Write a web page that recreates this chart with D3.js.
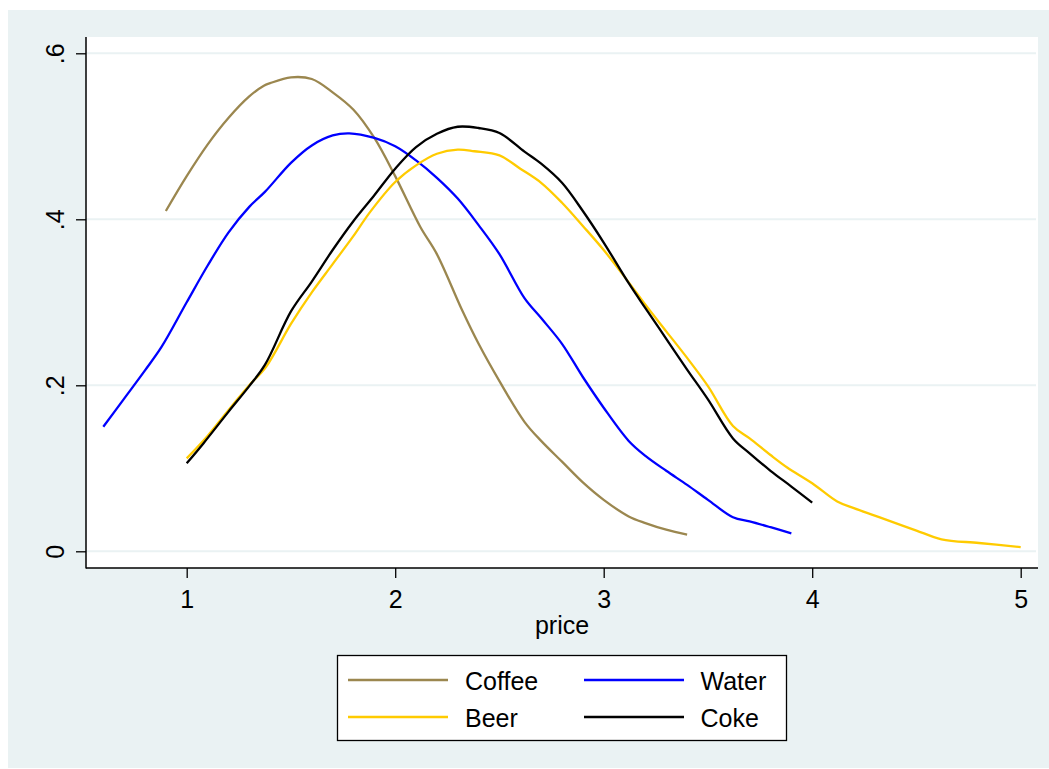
<!DOCTYPE html>
<html><head><meta charset="utf-8">
<script src="https://cdn.jsdelivr.net/npm/d3@7"></script>
<style>html,body{margin:0;padding:0;background:#fff;}svg{display:block;}</style>
</head><body>
<svg id="chart" width="1049" height="769"></svg>
<script>
// ---- data ----
const seriesNames = ["Coffee", "Water", "Beer", "Coke"];
const seriesColors = ["#9b874f", "#0000ff", "#ffcb00", "#000000"];

const coffeeX = [0.9,1.0,1.1,1.2,1.3,1.37,1.4,1.5,1.6,1.7,1.8,1.9,2.0,2.12,2.2,2.32,2.4,2.5,2.62,2.7,2.8,2.9,3.0,3.12,3.2,3.3,3.4];
const coffeeY = [0.410,0.452,0.490,0.522,0.548,0.561,0.564,0.571,0.569,0.553,0.532,0.498,0.452,0.391,0.358,0.291,0.250,0.205,0.156,0.133,0.108,0.083,0.062,0.042,0.034,0.026,0.020];

const waterX = [0.6,0.7,0.8,0.88,1.0,1.1,1.2,1.3,1.375,1.5,1.6,1.7,1.78,1.9,2.0,2.1,2.2,2.3,2.4,2.5,2.62,2.7,2.8,2.9,3.0,3.12,3.2,3.3,3.4,3.5,3.62,3.7,3.8,3.9];
const waterY = [0.150,0.184,0.218,0.2465,0.300,0.344,0.384,0.415,0.433,0.468,0.489,0.501,0.5035,0.498,0.488,0.471,0.450,0.425,0.393,0.358,0.305,0.281,0.250,0.210,0.173,0.133,0.115,0.097,0.080,0.062,0.041,0.036,0.029,0.0217];

const beerX = [1.0,1.1,1.2,1.3,1.38,1.5,1.6,1.7,1.8,1.88,2.0,2.1,2.2,2.3,2.38,2.5,2.6,2.7,2.8,2.9,3.0,3.12,3.2,3.3,3.4,3.5,3.62,3.7,3.8,3.88,4.0,4.12,4.2,4.3,4.4,4.5,4.62,4.8,5.0];
const beerY = [0.112,0.139,0.170,0.200,0.222,0.274,0.312,0.346,0.380,0.409,0.445,0.465,0.479,0.484,0.482,0.477,0.461,0.444,0.420,0.392,0.363,0.324,0.297,0.265,0.233,0.199,0.151,0.136,0.116,0.101,0.082,0.060,0.052,0.043,0.034,0.025,0.0145,0.010,0.005];

const cokeX = [1.0,1.08,1.2,1.3,1.375,1.5,1.6,1.7,1.8,1.9,2.0,2.1,2.2,2.3,2.4,2.5,2.62,2.7,2.8,2.9,3.0,3.12,3.2,3.3,3.4,3.5,3.62,3.7,3.8,3.9,4.0];
const cokeY = [0.106,0.130,0.168,0.199,0.2245,0.289,0.325,0.363,0.398,0.429,0.461,0.487,0.503,0.5115,0.510,0.504,0.4815,0.467,0.444,0.410,0.372,0.323,0.293,0.256,0.219,0.183,0.136,0.118,0.097,0.078,0.0586];

const xTicks = [1, 2, 3, 4, 5];
const yTicks = [0, 0.2, 0.4, 0.6];
const yTickLabels = ["0", ".2", ".4", ".6"];
const xLabel = "price";

// ---- layout ----
const svg = d3.select("#chart");
const font = "'Liberation Sans', Arial, Helvetica, sans-serif";
const bg = "#eaf2f3";

svg.append("rect").attr("x", 8).attr("y", 10).attr("width", 1041).attr("height", 758).attr("fill", bg);

const plot = {left: 86, right: 1038, top: 37, bottom: 568};
svg.append("rect").attr("x", plot.left).attr("y", plot.top)
  .attr("width", plot.right - plot.left).attr("height", plot.bottom - plot.top).attr("fill", "#fff");

const x = d3.scaleLinear().domain([1, 5]).range([186.7, 1020.7]);
const y = d3.scaleLinear().domain([0, 0.6]).range([551.3, 53.3]);

// gridlines
svg.append("g").selectAll("line").data(yTicks).join("line")
  .attr("x1", plot.left).attr("x2", plot.right - 2)
  .attr("y1", d => y(d)).attr("y2", d => y(d))
  .attr("stroke", bg).attr("stroke-width", 2);

// axes
const yAxis = d3.axisLeft(y).tickValues(yTicks).tickSize(10).tickFormat((d, i) => yTickLabels[i]);
const gy = svg.append("g").attr("transform", `translate(${plot.left},0)`).call(yAxis);
gy.select(".domain").remove();
gy.selectAll(".tick line").attr("stroke", "#000").attr("stroke-width", 1.3);
gy.selectAll(".tick text").remove();
gy.selectAll(".tick").append("text")
  .attr("transform", "translate(-22,0) rotate(-90)")
  .attr("text-anchor", "middle").attr("y", 0).attr("dy", 0)
  .attr("fill", "#000").style("font-family", font).style("font-size", "25px")
  .text((d, i) => yTickLabels[i]);

const xAxis = d3.axisBottom(x).tickValues(xTicks).tickSize(10).tickFormat(d3.format("d"));
const gx = svg.append("g").attr("transform", `translate(0,${plot.bottom})`).call(xAxis);
gx.select(".domain").remove();
gx.selectAll(".tick line").attr("stroke", "#000").attr("stroke-width", 1.3);
gx.selectAll(".tick text").attr("y", 0).attr("dy", 39.5).attr("fill", "#000")
  .style("font-family", font).style("font-size", "25px");

// axis lines
svg.append("line").attr("x1", plot.left).attr("x2", plot.left).attr("y1", plot.top).attr("y2", plot.bottom + 0.5)
  .attr("stroke", "#000").attr("stroke-width", 1.5);
svg.append("line").attr("x1", plot.left).attr("x2", plot.right).attr("y1", plot.bottom).attr("y2", plot.bottom)
  .attr("stroke", "#000").attr("stroke-width", 1.5);

svg.append("text").attr("x", 562).attr("y", 634).attr("text-anchor", "middle")
  .style("font-family", font).style("font-size", "25px").attr("fill", "#000").text(xLabel);

// curves
const allX = [coffeeX, waterX, beerX, cokeX];
const allY = [coffeeY, waterY, beerY, cokeY];
const line = d3.line().x(d => x(d[0])).y(d => y(d[1])).curve(d3.curveCatmullRom.alpha(0.5));
// draw order: Coffee, Water, Beer, Coke
allX.forEach((xs, i) => {
  const pts = xs.map((v, j) => [v, allY[i][j]]);
  svg.append("path").datum(pts).attr("d", line)
    .attr("fill", "none").attr("stroke", seriesColors[i]).attr("stroke-width", 2.3)
    .attr("stroke-linejoin", "round");
});

// legend
svg.append("rect").attr("x", 337.5).attr("y", 655.5).attr("width", 449).attr("height", 85)
  .attr("fill", "#fff").attr("stroke", "#000").attr("stroke-width", 1.3);
const legendPos = [
  {lx: 348, ty: 680, tx: 465},
  {lx: 584, ty: 680, tx: 700.5},
  {lx: 348, ty: 717, tx: 465},
  {lx: 584, ty: 717, tx: 700.5}
];
seriesNames.forEach((name, i) => {
  const p = legendPos[i];
  svg.append("line").attr("x1", p.lx).attr("x2", p.lx + 100).attr("y1", p.ty).attr("y2", p.ty)
    .attr("stroke", seriesColors[i]).attr("stroke-width", 2.3);
  svg.append("text").attr("x", p.tx).attr("y", p.ty + 10)
    .style("font-family", font).style("font-size", "25px").attr("fill", "#000").text(name);
});
</script>
</body></html>
